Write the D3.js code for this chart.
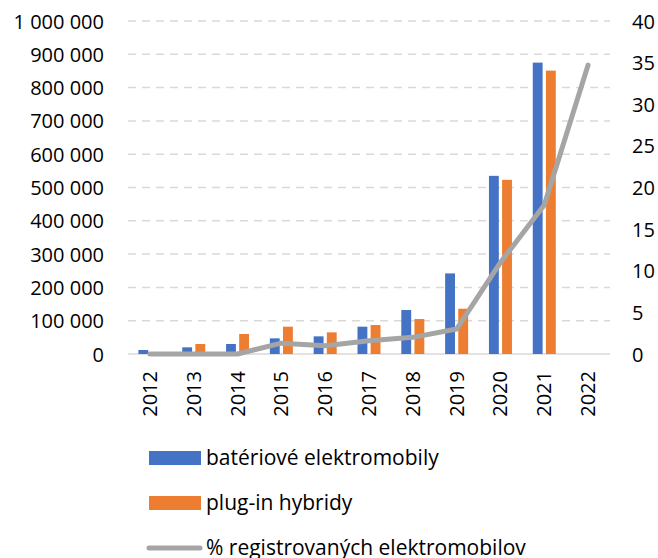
<!DOCTYPE html>
<html>
<head>
<meta charset="utf-8">
<script src="https://cdn.jsdelivr.net/npm/d3@7"></script>
<style>
  body { margin:0; background:#fff; }
  text { font-family: "Open Sans", "Noto Sans", sans-serif; fill:#000; }
</style>
</head>
<body>
<div id="chart"></div>
<script>
// data
var years = ["2012","2013","2014","2015","2016","2017","2018","2019","2020","2021","2022"];
var bev  = [12000, 20000, 30000, 47000, 53000, 82000, 132000, 242000, 535000, 875000, 0];
var phev = [0, 30000, 60000, 82000, 65000, 87000, 105000, 136000, 523000, 851000, 0];
var share = [0, 0, 0, 1.3, 1.0, 1.6, 2.0, 3.0, 11.0, 17.9, 34.7];
var leftTicks = d3.range(0, 1000001, 100000);
var rightTicks = d3.range(0, 41, 5);
var seriesNames = ["batériové elektromobily", "plug-in hybridy", "% registrovaných elektromobilov"];

var W = 658, H = 558;
var pl = 128, pr = 610, pt = 21, pb = 354;

var svg = d3.select("#chart").append("svg")
    .attr("width", W).attr("height", H);

var x = d3.scaleBand().domain(years).range([pl, pr]).padding(0);
var bw = x.bandwidth();
var inner = d3.scaleBand().domain(["bev","phev"])
    .range([bw/2 - 11.5, bw/2 + 11.5]).paddingInner(0.25);
var y = d3.scaleLinear().domain([0, 1000000]).range([pb, pt]);
var y2 = d3.scaleLinear().domain([0, 40]).range([pb, pt]);

var fmt = d3.formatLocale({decimal:",", thousands:" ", grouping:[3], currency:["",""]}).format(",d");

// gridlines
svg.append("g").selectAll("line")
    .data(leftTicks)
    .enter().append("line")
    .attr("x1", pl).attr("x2", pr)
    .attr("y1", function(d){ return y(d); })
    .attr("y2", function(d){ return y(d); })
    .style("stroke", "#d9d9d9")
    .style("stroke-width", 1.5)
    .style("stroke-dasharray", function(d){ return d == 0 ? null : "8,6"; });

// left axis
var gl = svg.append("g")
    .attr("transform", "translate(" + (pl - 24) + ",0)")
    .call(d3.axisLeft(y).tickValues(leftTicks).tickFormat(fmt).tickSize(0).tickPadding(0));
gl.select(".domain").remove();
gl.selectAll("text").style("font-size", "20px").style("font-family", null).attr("dy", "0.35em");

// right axis
var gr = svg.append("g")
    .attr("transform", "translate(" + (pr + 22) + ",0)")
    .call(d3.axisRight(y2).tickValues(rightTicks).tickSize(0).tickPadding(0));
gr.select(".domain").remove();
gr.selectAll("text").style("font-size", "20px").style("font-family", null).attr("dy", "0.35em");

// year labels
svg.append("g").selectAll("text")
    .data(years)
    .enter().append("text")
    .attr("transform", function(d){ return "translate(" + (x(d) + bw/2) + ",371) rotate(-90)"; })
    .attr("text-anchor", "end")
    .attr("dy", "0.35em")
    .style("font-size", "20px")
    .text(function(d){ return d; });

// bars
var groups = svg.append("g").selectAll("g")
    .data(years)
    .enter().append("g")
    .attr("transform", function(d){ return "translate(" + x(d) + ",0)"; });

groups.append("rect")
    .attr("x", inner("bev"))
    .attr("width", inner.bandwidth())
    .attr("y", function(d,i){ return y(bev[i]); })
    .attr("height", function(d,i){ return y(0) - y(bev[i]); })
    .style("fill", "#4472c4");

groups.append("rect")
    .attr("x", inner("phev"))
    .attr("width", inner.bandwidth())
    .attr("y", function(d,i){ return y(phev[i]); })
    .attr("height", function(d,i){ return y(0) - y(phev[i]); })
    .style("fill", "#ed7d31");

// share line
var line = d3.line()
    .x(function(d,i){ return x(years[i]) + bw/2; })
    .y(function(d){ return y2(d); });

svg.append("path")
    .datum(share)
    .attr("d", line)
    .style("fill", "none")
    .style("stroke", "#a5a5a5")
    .style("stroke-width", 5)
    .style("stroke-linejoin", "round")
    .style("stroke-linecap", "round");

// legend
var leg = svg.append("g");
var legY = [458, 503, 548];
leg.append("rect").attr("x", 149).attr("y", legY[0] - 7).attr("width", 52).attr("height", 14).style("fill", "#4472c4");
leg.append("rect").attr("x", 149).attr("y", legY[1] - 7).attr("width", 52).attr("height", 14).style("fill", "#ed7d31");
leg.append("line").attr("x1", 149).attr("x2", 200).attr("y1", legY[2]).attr("y2", legY[2])
    .style("stroke", "#a5a5a5").style("stroke-width", 5).style("stroke-linecap", "round");
leg.selectAll("text")
    .data(seriesNames)
    .enter().append("text")
    .attr("x", 206)
    .attr("y", function(d,i){ return legY[i]; })
    .attr("dy", "0.35em")
    .style("font-size", "21px")
    .text(function(d){ return d; });
</script>
</body>
</html>
